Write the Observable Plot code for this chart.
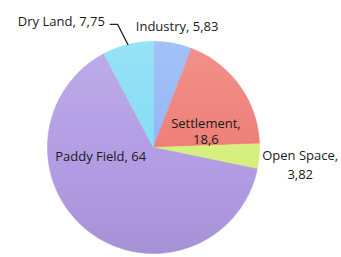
<!DOCTYPE html>
<html>
<head>
<meta charset="utf-8">
<script src="https://cdn.jsdelivr.net/npm/d3@7"></script>
<script src="https://cdn.jsdelivr.net/npm/@observablehq/plot@0.6"></script>
<style>
  html, body { margin: 0; padding: 0; background: #fff; }
  #chart svg { display: block; }
</style>
</head>
<body>
<div id="chart"></div>
<script>
// ---- data ----
const categories = ["Industry", "Settlement", "Open Space", "Paddy Field", "Dry Land"];
const values = [5.83, 18.6, 3.82, 64, 7.75];
const labels = ["Industry, 5,83", "Settlement,\n18,6", "Open Space,\n3,82", "Paddy Field, 64", "Dry Land, 7,75"];
const colors = ["#8fb4f5", "#ee7a72", "#d4f07a", "#b09ae4", "#80dcf4"];

// ---- layout (label placement, not data) ----
const labelLayout = {
  "Industry":    {r: 1.17, dx: 1,   dy: 0,   anchor: "middle", lh: 1.3},
  "Settlement":  {r: 0.55, dx: 5,   dy: 17,  anchor: "middle", lh: 1.3},
  "Open Space":  {r: 1.37, dx: 2,   dy: 4,   anchor: "middle", lh: 1.4},
  "Paddy Field": {r: 0.5,  dx: -21, dy: -34, anchor: "middle", lh: 1.3},
  "Dry Land":    {r: 1.2,  dx: -18, dy: -3,  anchor: "end",    lh: 1.3}
};

const total = d3.sum(values);
let acc = 0;
const slices = categories.map((c, i) => {
  const a0 = acc / total * 2 * Math.PI;
  acc += values[i];
  const a1 = acc / total * 2 * Math.PI;
  return {cat: c, label: labels[i], a0, a1, mid: (a0 + a1) / 2};
});

// polygon points for each slice (angle measured clockwise from 12 o'clock)
const pts = [];
for (const s of slices) {
  pts.push({cat: s.cat, x: 0, y: 0});
  const n = Math.max(2, Math.ceil((s.a1 - s.a0) / (Math.PI / 180)));
  for (let k = 0; k <= n; k++) {
    const a = s.a0 + (s.a1 - s.a0) * k / n;
    pts.push({cat: s.cat, x: Math.sin(a), y: Math.cos(a)});
  }
  pts.push({cat: s.cat, x: 0, y: 0});
}
// full circle for shading overlay
const circle = d3.range(0, 361, 2).map(d => ({x: Math.sin(d * Math.PI / 180), y: Math.cos(d * Math.PI / 180)}));

const labelData = slices.map(s => {
  const L = labelLayout[s.cat];
  return {...s, x: Math.sin(s.mid) * L.r, y: Math.cos(s.mid) * L.r, ...L};
});

// leader line for Dry Land
const dry = slices.find(s => s.cat === "Dry Land");
const ex = Math.sin(dry.mid - 0.04) * 1.21, ey = Math.cos(dry.mid - 0.04) * 1.21;
const leader = [
  {x: Math.sin(dry.mid) * 1.0, y: Math.cos(dry.mid) * 1.0},
  {x: ex, y: ey},
  {x: ex - 0.07, y: ey}
];

const W = 341, H = 257, cx = 153, cy = 147, R = 106;

const chart = Plot.plot({
  width: W,
  height: H,
  marginLeft: cx - R,
  marginRight: W - (cx + R),
  marginTop: cy - R,
  marginBottom: H - (cy + R),
  x: {domain: [-1, 1], axis: null},
  y: {domain: [-1, 1], axis: null},
  color: {domain: categories, range: colors},
  style: {fontFamily: "'Open Sans', sans-serif", fontSize: "13px", background: "white", overflow: "visible"},
  marks: [
    Plot.line(pts, {x: "x", y: "y", z: "cat", fill: "cat", stroke: "cat", strokeWidth: 0.6, curve: "linear"}),
    Plot.line(circle, {x: "x", y: "y", fill: "url(#shade)", stroke: "none"}),
    Plot.line(leader, {x: "x", y: "y", stroke: "#222", strokeWidth: 1.2}),
    ...labelData.map(d => Plot.text([d], {
      x: "x", y: "y", text: "label", dx: d.dx, dy: d.dy,
      textAnchor: d.anchor, lineAnchor: "middle", fill: "#1a1a1a", fontSize: 13, lineHeight: d.lh
    }))
  ]
});

const ns = "http://www.w3.org/2000/svg";
const defs = document.createElementNS(ns, "defs");
defs.innerHTML = `<linearGradient id="shade" x1="0" y1="0" x2="0" y2="1">
  <stop offset="0" stop-color="#fff" stop-opacity="0.18"/>
  <stop offset="0.5" stop-color="#fff" stop-opacity="0.04"/>
  <stop offset="1" stop-color="#000" stop-opacity="0.06"/>
</linearGradient>`;
chart.insertBefore(defs, chart.firstChild);
document.getElementById("chart").append(chart);
</script>
</body>
</html>
